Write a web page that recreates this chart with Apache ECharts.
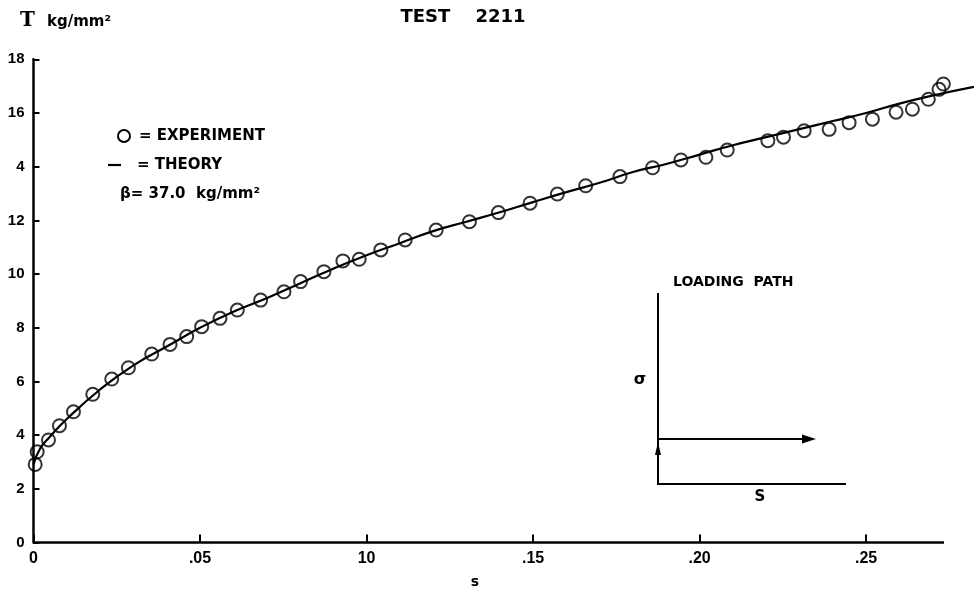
<!DOCTYPE html>
<html><head><meta charset="utf-8">
<script src="https://cdn.jsdelivr.net/npm/echarts@6/dist/echarts.min.js"></script>
<style>html,body{margin:0;padding:0;background:#fff}#c{width:974px;height:594px}</style>
</head><body><div id="c"></div>
<script>
// Experimental points (s, tau)
const expS = [0.0005,0.0011,0.0045,0.0078,0.012,0.0178,0.0235,0.0285,0.0355,0.041,0.046,0.0505,0.056,0.0612,0.0682,0.0752,0.0802,0.0872,0.0929,0.0978,0.1043,0.1116,0.1209,0.1309,0.1396,0.1491,0.1573,0.1658,0.1761,0.1859,0.1944,0.2019,0.2083,0.2205,0.2252,0.2314,0.2389,0.2449,0.2519,0.259,0.2639,0.2687,0.2719,0.2732];
const expT = [2.91,3.38,3.82,4.35,4.87,5.52,6.09,6.51,7.02,7.38,7.67,8.04,8.35,8.66,9.03,9.34,9.72,10.09,10.49,10.55,10.90,11.27,11.64,11.95,12.29,12.64,12.98,13.29,13.63,13.96,14.25,14.35,14.62,14.97,15.10,15.34,15.39,15.64,15.77,16.03,16.14,16.51,16.88,17.08];
// Theory curve
const theoryS = [0,0.002,0.005,0.01,0.02,0.03,0.04,0.05,0.06,0.07,0.08,0.09,0.10,0.11,0.12,0.13,0.14,0.15,0.16,0.17,0.18,0.19,0.20,0.21,0.22,0.23,0.24,0.25,0.26,0.27,0.2824];
const theoryT = [2.9,3.5,3.95,4.6,5.7,6.6,7.3,8.0,8.6,9.1,9.65,10.2,10.7,11.15,11.6,11.95,12.3,12.68,13.05,13.4,13.8,14.1,14.45,14.8,15.1,15.4,15.7,16.0,16.35,16.65,16.97];
// Axis ticks / labels
const xTicks = [0,0.05,0.10,0.15,0.20,0.25];
const xTickLabels = ['0','.05','10','.15','.20','.25'];
const yTicks = [0,2,4,6,8,10,12,14,16,18];
const yTickLabels = ['0','2','4','6','8','10','12','4','16','18'];
const xMax = 0.2824;
const xAxisEnd = 0.2734;

const FONT = 'Liberation Sans';
const FONT2 = 'DejaVu Sans';
const chart = echarts.init(document.getElementById('c'), null, {renderer:'canvas'});
function lab(ticks, labels, v){
  for (let i=0;i<ticks.length;i++){ if (Math.abs(ticks[i]-v)<1e-6) return labels[i]; }
  return '';
}
const txt = (x,y,text,size,align,fam) => ({type:'text', style:{x:x,y:y,text:text,
  font:'bold '+size+'px "'+(fam||FONT2)+'"', fill:'#000', textAlign:align||'left', align:align||'left',
  textVerticalAlign:'middle', verticalAlign:'middle'}});
const ln = (x1,y1,x2,y2,w) => ({type:'line', shape:{x1:x1,y1:y1,x2:x2,y2:y2}, style:{stroke:'#000', lineWidth:w||2}});

chart.setOption({
  animation:false,
  backgroundColor:'#fff',
  grid:{left:33.5, right:0, top:59.3, bottom:51.5, containLabel:false},
  xAxis:{type:'value', min:0, max:xMax,
    axisLine:{show:false},
    axisTick:{show:true, inside:true, length:8, customValues:xTicks, lineStyle:{color:'#000', width:2}},
    axisLabel:{show:true, customValues:xTicks, margin:8, color:'#000', fontFamily:FONT, fontWeight:'bold', fontSize:16,
      formatter:v=>lab(xTicks,xTickLabels,v)},
    splitLine:{show:false}},
  yAxis:{type:'value', min:0, max:18, interval:2,
    axisLine:{show:true, lineStyle:{color:'#000', width:2.5}},
    axisTick:{show:true, inside:true, length:6, lineStyle:{color:'#000', width:2}},
    axisLabel:{margin:9, color:'#000', fontFamily:FONT, fontWeight:'bold', fontSize:15,
      formatter:v=>lab(yTicks,yTickLabels,v)},
    splitLine:{show:false}},
  series:[
    {type:'line', name:'THEORY', smooth:true, symbol:'none', data:theoryS.map((s,i)=>[s,theoryT[i]]),
      lineStyle:{color:'#000', width:2.2}, z:3,
      markLine:{silent:true, symbol:['none','none'], label:{show:false}, animation:false,
        lineStyle:{color:'#000', width:2.5, type:'solid'},
        data:[[{coord:[0,0]},{coord:[xAxisEnd,0]}]]}},
    {type:'scatter', name:'EXPERIMENT', symbol:'circle', symbolSize:13,
      data:expS.map((s,i)=>[s,expT[i]]),
      itemStyle:{color:'rgba(255,255,255,0)', borderColor:'#000', borderWidth:2}, z:4}
  ],
  graphic:[
    txt(463,17,'TEST    2211',18,'center'),
    {type:'text', style:{x:20,y:21,text:'T',font:'bold 20px "DejaVu Serif"',fill:'#000',textVerticalAlign:'middle',verticalAlign:'middle'}},
    txt(47,22,'kg/mm²',15),
    txt(475,582,'s',14,'center'),
    {type:'circle', shape:{cx:124,cy:136,r:6}, style:{fill:'none', stroke:'#000', lineWidth:2}},
    txt(139,136,'= EXPERIMENT',15),
    ln(108,165,121,165,2.2),
    txt(137,165,'= THEORY',15),
    txt(120,194,'β= 37.0  kg/mm²',15),
    // Loading path inset
    txt(673,282,'LOADING  PATH',14),
    ln(658,293,658,485,2),
    ln(657,484,846,484,2),
    ln(658,439,806,439,2),
    {type:'polygon', shape:{points:[[802,434.5],[816,439],[802,443.5]]}, style:{fill:'#000'}},
    {type:'polygon', shape:{points:[[655,455],[658,442],[661,455]]}, style:{fill:'#000'}},
    txt(640,380,'σ',16,'center'),
    txt(760,497,'S',15,'center')
  ]
});
</script></body></html>
